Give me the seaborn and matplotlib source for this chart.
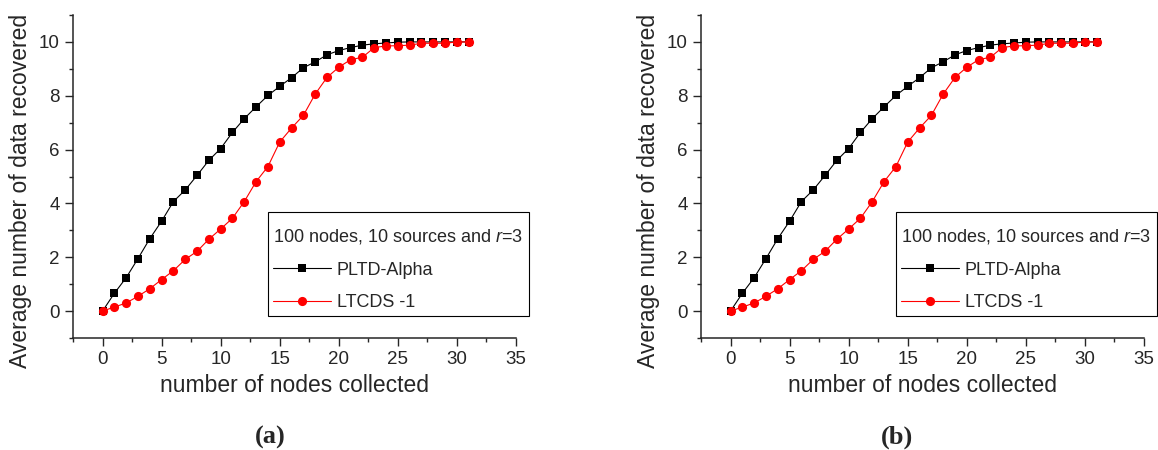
import matplotlib
matplotlib.use("Agg")
import matplotlib.pyplot as plt
from matplotlib.ticker import MultipleLocator
import pandas as pd
import seaborn as sns

# nodes collected, 0..31
nodes = list(range(32))
pltd_alpha = [0.0, 0.66, 1.24, 1.95, 2.69, 3.34, 4.07, 4.50, 5.04, 5.60,
              6.04, 6.64, 7.15, 7.59, 8.01, 8.35, 8.67, 9.04, 9.26, 9.52,
              9.68, 9.79, 9.88, 9.93, 9.96, 9.99, 10.0, 10.0, 10.0, 10.0,
              10.0, 10.0]
ltcds_1 = [0.0, 0.15, 0.30, 0.55, 0.83, 1.17, 1.50, 1.92, 2.22, 2.67,
           3.05, 3.45, 4.07, 4.81, 5.37, 6.28, 6.80, 7.27, 8.06, 8.68,
           9.06, 9.34, 9.43, 9.79, 9.85, 9.86, 9.88, 9.95, 9.95, 9.95,
           10.0, 10.0]
panel_tags = ["(a)", "(b)"]
legend_title = "100 nodes, 10 sources and $r$=3"

sns.set_style("ticks")
plt.rcParams['font.family'] = ['Liberation Sans', 'DejaVu Sans']
plt.rcParams['mathtext.fontset'] = 'custom'
plt.rcParams['mathtext.rm'] = 'Liberation Sans'
plt.rcParams['mathtext.it'] = 'Liberation Sans:italic'

df = pd.DataFrame({'nodes': nodes, 'pltd': pltd_alpha, 'ltcds': ltcds_1})

W, H = 1158, 450
fig = plt.figure(figsize=(W / 100, H / 100), dpi=100)

lefts = [73, 701]
for k, x0 in enumerate(lefts):
    ax = fig.add_axes([x0 / W, 1 - 338 / H, 443 / W, 323 / H])
    sns.lineplot(ax=ax, data=df, x='nodes', y='pltd', color='black', lw=0.8,
                 marker='s', markersize=5.6, markeredgewidth=0, label='PLTD-Alpha')
    sns.lineplot(ax=ax, data=df, x='nodes', y='ltcds', color='red', lw=0.8,
                 marker='o', markersize=6.6, markeredgewidth=0, label='LTCDS -1')
    ax.set_xlim(-2.5, 35)
    ax.set_ylim(-1, 11)
    ax.xaxis.set_major_locator(MultipleLocator(5))
    ax.xaxis.set_minor_locator(MultipleLocator(2.5))
    ax.yaxis.set_major_locator(MultipleLocator(2))
    ax.yaxis.set_minor_locator(MultipleLocator(1))
    ax.set_yticks([0, 2, 4, 6, 8, 10])
    sns.despine(ax=ax)
    for s in ['left', 'bottom']:
        ax.spines[s].set_linewidth(1.1)
    ax.tick_params(which='major', length=5.5, width=1, labelsize=13.5, pad=4, direction='out')
    ax.tick_params(which='minor', length=3, width=1, direction='out')
    ax.set_xlabel('number of nodes collected', fontsize=16.5)
    ax.set_ylabel('Average number of data recovered', fontsize=16.5)
    ax.xaxis.set_label_coords(0.5, -0.112)
    ax.yaxis.set_label_coords(-0.093, 0.454)

    # blank first line gives the extra room above the title, as in the original
    leg = ax.legend(loc='upper left', bbox_to_anchor=((195 + x0) / W, 1 - 212 / H),
                    bbox_transform=fig.transFigure, borderaxespad=0,
                    title="\n" + legend_title, title_fontsize=13, fontsize=13,
                    fancybox=False, framealpha=1, edgecolor='black',
                    handlelength=3.2, handletextpad=0.3, labelspacing=0.85,
                    borderpad=0.3)
    leg.get_title().set_linespacing(0.5)
    leg._legend_box.align = 'left'
    leg.get_frame().set_linewidth(0.8)

    fig.text((270 + 627 * k) / W, 1 - 437 / H, panel_tags[k], ha='center', va='center',
             fontsize=19, fontweight='bold', family='Liberation Serif')

fig.savefig('out.png', dpi=100)
